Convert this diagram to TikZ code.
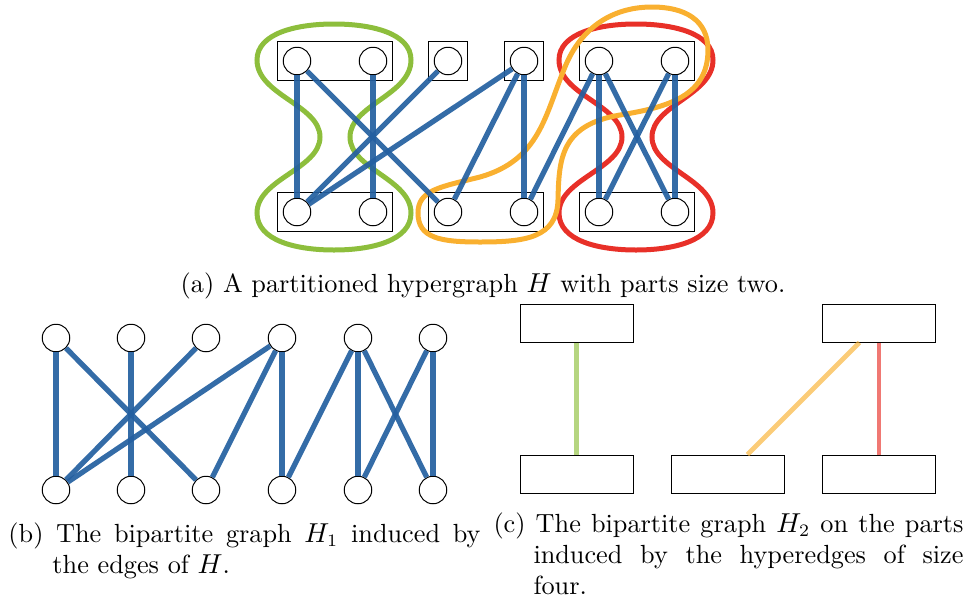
\documentclass[tikz,border=0pt]{standalone}
\usetikzlibrary{fit}

\definecolor{edgeblue}{RGB}{35,95,160}
\definecolor{hgreen}{RGB}{141,190,60}
\definecolor{horange}{RGB}{249,176,48}
\definecolor{hred}{RGB}{232,48,40}

\tikzstyle{vert} = [circle, draw=black, fill=white, minimum size=11pt, inner sep=0pt]
\tikzstyle{part} = [rectangle, draw=black, inner sep=2pt]
\tikzstyle{pbox} = [rectangle, draw=black, minimum width=45.2pt, minimum height=15.2pt]
\tikzstyle{edge} = [line width=2.1pt, draw=edgeblue, opacity=0.92]
\tikzstyle{hedge} = [line width=2pt]
\tikzstyle{pedge} = [line width=1.85pt, opacity=0.65]
\tikzstyle{capbody} = [anchor=north west, inner sep=0pt, align=justify]

\begin{document}
\begin{tikzpicture}[x=0.4pt, y=-0.4pt, font=\fontsize{10.5}{12.4}\selectfont]
    \useasboundingbox (0,0) rectangle (969,601);

    % (a) hypergraph
    \node (ht1) [vert] at (297,61) {};
    \node (ht2) [vert] at (373,61) {};
    \node (ht3) [vert] at (448,61) {};
    \node (ht4) [vert] at (524,61) {};
    \node (ht5) [vert] at (599,61) {};
    \node (ht6) [vert] at (675,61) {};
    \node (hb1) [vert] at (297,212) {};
    \node (hb2) [vert] at (373,212) {};
    \node (hb3) [vert] at (448,212) {};
    \node (hb4) [vert] at (524,212) {};
    \node (hb5) [vert] at (599,212) {};
    \node (hb6) [vert] at (675,212) {};

    \node (pa1) [part, fit=(ht1)(ht2)] {};
    \node (pa2) [part, fit=(ht3)] {};
    \node (pa3) [part, fit=(ht4)] {};
    \node (pa4) [part, fit=(ht5)(ht6)] {};
    \node (pa5) [part, fit=(hb1)(hb2)] {};
    \node (pa6) [part, fit=(hb3)(hb4)] {};
    \node (pa7) [part, fit=(hb5)(hb6)] {};

    % hyperedges of size four
    \draw [hedge, hgreen] (257,60) .. controls (257,33) and (297,24) .. (334,24)
        .. controls (371,24) and (411,33) .. (411,60)
        .. controls (411,95) and (350,105) .. (350,137)
        .. controls (350,169) and (411,179) .. (411,213)
        .. controls (411,241) and (371,250) .. (334,250)
        .. controls (297,250) and (257,241) .. (257,213)
        .. controls (257,179) and (320,169) .. (320,137)
        .. controls (320,105) and (257,95) .. (257,60) -- cycle;
    \draw [hedge, hred, shift={(302,0)}] (257,60) .. controls (257,33) and (297,24) .. (334,24)
        .. controls (371,24) and (411,33) .. (411,60)
        .. controls (411,95) and (350,105) .. (350,137)
        .. controls (350,169) and (411,179) .. (411,213)
        .. controls (411,241) and (371,250) .. (334,250)
        .. controls (297,250) and (257,241) .. (257,213)
        .. controls (257,179) and (320,169) .. (320,137)
        .. controls (320,105) and (257,95) .. (257,60) -- cycle;
    \draw [hedge, horange] (418,213) .. controls (418,238) and (440,242) .. (480,242)
        .. controls (525,242) and (557,238) .. (558,200)
        .. controls (559,160) and (560,125) .. (620,115)
        .. controls (670,107) and (708,95) .. (708,50)
        .. controls (708,20) and (685,7) .. (652,7)
        .. controls (610,7) and (580,30) .. (565,67)
        .. controls (545,115) and (540,160) .. (480,177)
        .. controls (440,187) and (418,190) .. (418,213) -- cycle;

    \draw [edge] (ht1) -- (hb1);
    \draw [edge] (ht1) -- (hb3);
    \draw [edge] (ht2) -- (hb2);
    \draw [edge] (ht3) -- (hb1);
    \draw [edge] (ht4) -- (hb1);
    \draw [edge] (ht4) -- (hb3);
    \draw [edge] (ht4) -- (hb4);
    \draw [edge] (ht5) -- (hb4);
    \draw [edge] (ht5) -- (hb5);
    \draw [edge] (ht5) -- (hb6);
    \draw [edge] (ht6) -- (hb5);
    \draw [edge] (ht6) -- (hb6);

    \node (capa) [anchor=base] at (483,292) {(a) A partitioned hypergraph $H$ with parts size two.};

    % (b) graph H_1
    \node (gt1) [vert] at (56,338) {};
    \node (gt2) [vert] at (131,338) {};
    \node (gt3) [vert] at (206,338) {};
    \node (gt4) [vert] at (282,338) {};
    \node (gt5) [vert] at (358,338) {};
    \node (gt6) [vert] at (433,338) {};
    \node (gb1) [vert] at (56,490) {};
    \node (gb2) [vert] at (131,490) {};
    \node (gb3) [vert] at (206,490) {};
    \node (gb4) [vert] at (282,490) {};
    \node (gb5) [vert] at (358,490) {};
    \node (gb6) [vert] at (433,490) {};

    \draw [edge] (gt1) -- (gb1);
    \draw [edge] (gt1) -- (gb3);
    \draw [edge] (gt2) -- (gb2);
    \draw [edge] (gt3) -- (gb1);
    \draw [edge] (gt4) -- (gb1);
    \draw [edge] (gt4) -- (gb3);
    \draw [edge] (gt4) -- (gb4);
    \draw [edge] (gt5) -- (gb4);
    \draw [edge] (gt5) -- (gb5);
    \draw [edge] (gt5) -- (gb6);
    \draw [edge] (gt6) -- (gb5);
    \draw [edge] (gt6) -- (gb6);

    \node (capb) [capbody, text width=188.8pt] at (8,522) {\hangindent=17.6pt\hangafter=1\noindent(b) The bipartite graph $H_1$ induced by\linebreak the edges of $H$.\par};

    % (c) graph H_2
    \node (pt1) [pbox] at (576.5,323) {};
    \node (pt2) [pbox] at (879,323) {};
    \node (pb1) [pbox] at (576.5,474) {};
    \node (pb2) [pbox] at (728,474) {};
    \node (pb3) [pbox] at (879,474) {};

    \draw [pedge, hgreen] (pt1.south) -- (pb1.north);
    \draw [pedge, horange] (pt2.225) -- (pb2.45);
    \draw [pedge, hred] (pt2.south) -- (pb3.north);

    \node (capc) [capbody, text width=188pt] at (493,512) {\hangindent=16pt\hangafter=1\noindent(c) The bipartite graph $H_2$ on the parts\linebreak induced by the hyperedges of size\linebreak four.\par};

\end{tikzpicture}
\end{document}
